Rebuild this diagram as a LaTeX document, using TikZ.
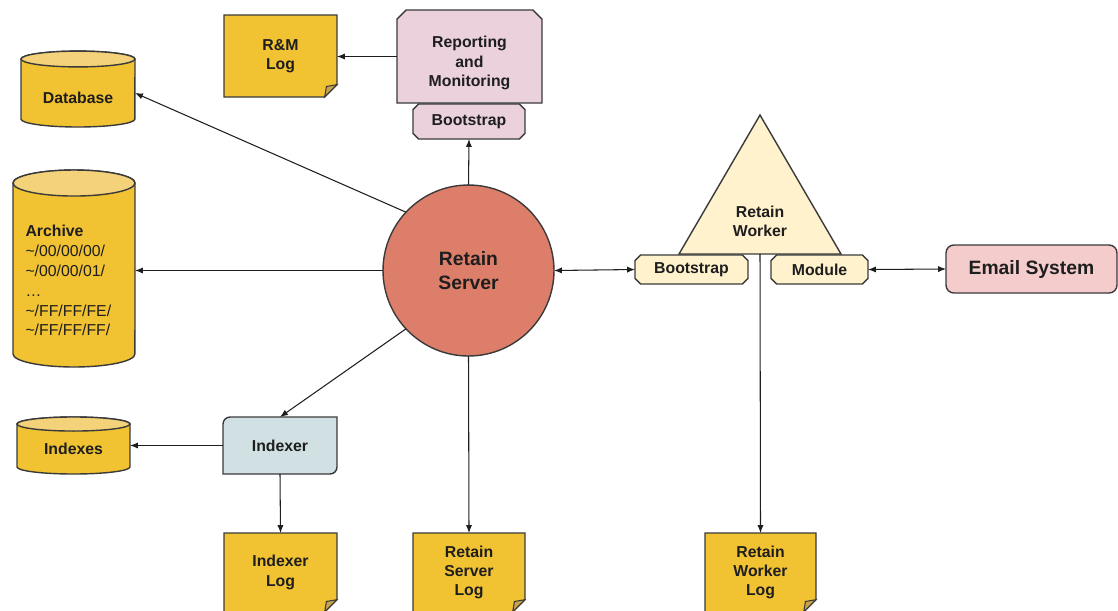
\documentclass[tikz,border=0pt]{standalone}
\usepackage{fontspec}
\setmainfont{Liberation Sans}
\usetikzlibrary{arrows.meta,shapes.misc,backgrounds}

\definecolor{logyellow}{HTML}{F1C232}
\definecolor{foldtan}{HTML}{C9A24A}
\definecolor{toplight}{HTML}{F4D27A}
\definecolor{serverred}{HTML}{DD7E6B}
\definecolor{reportpink}{HTML}{EAD1DC}
\definecolor{workeryellow}{HTML}{FFF2CC}
\definecolor{indexblue}{HTML}{D0E0E3}
\definecolor{emailpink}{HTML}{F4CCCC}
\definecolor{outline}{HTML}{3A3A3A}
\definecolor{ink}{HTML}{1E1E1E}

\begin{document}
\begin{tikzpicture}[x=0.02cm, y=-0.02cm, font=\fontsize{9}{11}\selectfont\bfseries]
    \tikzstyle{every node}=[text=ink, outer sep=0pt]
    \tikzstyle{link}=[->, >={Latex[length=4.5pt,width=3.5pt]}, draw=ink, line width=0.6pt]
    \tikzstyle{both}=[link, <->]
    \tikzstyle{shape line}=[draw=outline, line width=0.8pt]
    \tikzstyle{box}=[shape line, align=center]
    \tikzstyle{log}=[align=center, minimum width=2.26cm, minimum height=1.58cm]
    \tikzstyle{store}=[minimum width=2.28cm]
    \tikzstyle{plaque}=[box, chamfered rectangle, chamfered rectangle xsep=1.6pt,
        chamfered rectangle ysep=1.6pt, inner sep=0pt]

    \useasboundingbox (0,0) rectangle (1118,610);

    % Draw the server
    \node[box, circle, fill=serverred, minimum size=3.42cm, inner sep=0pt,
        font=\fontsize{11}{14}\selectfont\bfseries] (server) at (468.5,270.5) {Retain\\Server};

    % Reporting and its bootstrap
    \node[box, chamfered rectangle, chamfered rectangle corners={north west,north east},
        chamfered rectangle xsep=2.6pt, chamfered rectangle ysep=2.6pt, inner sep=0pt,
        fill=reportpink, minimum width=2.9cm, minimum height=1.86cm] (report) at (469.5,56.5)
        {\rule{0pt}{14pt}Reporting\\and\\Monitoring};
    \node[plaque, fill=reportpink, minimum width=2.24cm, minimum height=0.7cm] (rboot) at (469,121.5) {Bootstrap};

    % Stores on the left
    \node[store] (db) at (78,93) [minimum height=1.36cm] {\rule{0pt}{12pt}Database};
    \node[store, minimum width=2.44cm, minimum height=3.68cm, text width=1.94cm, align=left,
        inner sep=0pt, font=\fontsize{9}{11.3}\selectfont\mdseries] (archive) at (74,275)
        {\rule{0pt}{13pt}{\bfseries Archive}\\\textasciitilde/00/00/00/\\\textasciitilde/00/00/01/\\…\\\textasciitilde/FF/FF/FE/\\\textasciitilde/FF/FF/FF/};
    \node[store, minimum width=2.26cm, minimum height=1cm] (indexes) at (73.5,449) {Indexes};

    % Indexer
    \node[minimum width=2.28cm, minimum height=1.14cm] (indexer) at (280,445.5) {Indexer};

    % Logs
    \node[log, minimum height=1.64cm] (rmlog) at (280.5,56) {R\&M\\Log};
    \node[log] (idxlog) at (280.5,572.5) {Indexer\\Log};
    \node[log, minimum width=2.24cm] (srvlog) at (469,572.5) {Retain\\Server\\Log};
    \node[log, minimum width=2.22cm] (wrklog) at (760.5,572.5) {Retain\\Worker\\Log};

    % Worker
    \node[minimum width=3.24cm, minimum height=2.78cm, inner sep=0pt] (wtri) at (760,184.5) {};
    \node[align=center] (wlabel) at (760,221) {Retain\\Worker};
    \node[plaque, fill=workeryellow, minimum width=2.26cm, minimum height=0.58cm] (wboot) at (691.5,269.5) {Bootstrap};
    \node[plaque, fill=workeryellow, minimum width=1.94cm, minimum height=0.58cm] (module) at (819.5,269.5) {Module};

    % Email system
    \node[box, rounded corners=4.5pt, fill=emailpink, minimum width=3.42cm, minimum height=0.96cm,
        font=\fontsize{11}{13}\selectfont\bfseries] (email) at (1031.5,269) {Email System};

    % Shapes behind the texts
    \begin{scope}[on background layer]
        \foreach \n in {rmlog,idxlog,srvlog,wrklog}{
            \filldraw[shape line, fill=logyellow] (\n.north west) -- (\n.north east)
                -- ([yshift=7pt]\n.south east) -- ([xshift=-7pt]\n.south east) -- (\n.south west) -- cycle;
            \filldraw[shape line, line width=0.6pt, fill=foldtan] ([yshift=7pt]\n.south east)
                -- ([xshift=-7pt]\n.south east) -- ([xshift=-6pt,yshift=6pt]\n.south east) -- cycle;
        }
        \foreach \n/\rx/\ry in {db/32.4pt/4.5pt, archive/34.7pt/7.4pt, indexes/32.15pt/4pt}{
            \filldraw[shape line, fill=logyellow] (\n.north west) -- ([yshift=\ry]\n.south west)
                arc[start angle=180, end angle=360, x radius=\rx, y radius=\ry]
                -- (\n.north east) arc[start angle=0, end angle=180, x radius=\rx, y radius=\ry] -- cycle;
            \filldraw[shape line, fill=toplight] (\n.north) ellipse[x radius=\rx, y radius=\ry];
        }
        \filldraw[shape line, fill=indexblue] (indexer.south west) -- ([yshift=-4pt]indexer.north west)
            arc[start angle=180, end angle=90, radius=4pt] -- (indexer.north east)
            -- ([yshift=4pt]indexer.south east) arc[start angle=0, end angle=-90, radius=4pt] -- cycle;
        \filldraw[shape line, fill=workeryellow] (wtri.south west) -- (wtri.north) -- (wtri.south east) -- cycle;
    \end{scope}

    % Connect the server with everything round it
    \draw[link] (server.137) -- (db.east);
    \draw[link] (server.west) -- (server.west -| archive.east);
    \draw[link] (server.223) -- (indexer.north);
    \draw[link] (server.north) -- (rboot.south);
    \draw[link] (server.south) -- (srvlog.north);
    \draw[both] (server.east) -- (wboot.west);

    % Reporting, indexer and worker outputs
    \draw[link] (report.west) -- (report.west -| rmlog.east);
    \draw[link] (indexer.west) -- (indexer.west -| indexes.east);
    \draw[link] (indexer.south) -- (idxlog.north);
    \draw[link] (wtri.south) -- (wrklog.north);
    \draw[both] (module.east) -- (email.west);
\end{tikzpicture}
\end{document}
